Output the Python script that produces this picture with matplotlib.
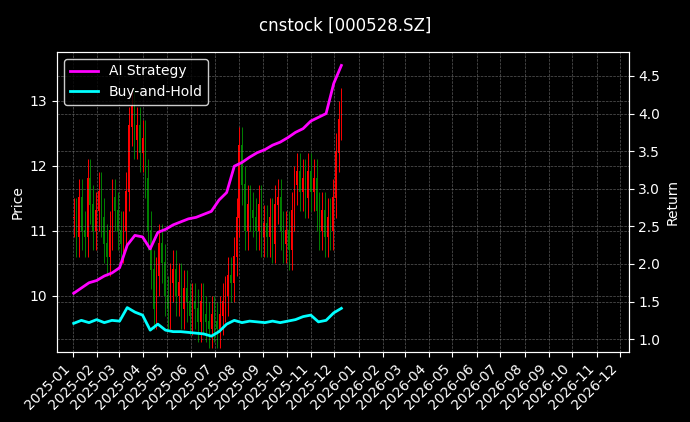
import matplotlib
matplotlib.use("Agg")
import matplotlib.pyplot as plt
import matplotlib.dates as mdates
import numpy as np
import pandas as pd

plt.style.use('dark_background')

title = 'cnstock [000528.SZ]'
price_close = [
    11.2, 10.9, 11.5, 11.0, 10.9, 11.8, 11.4, 11.0, 11.3, 11.6,
    11.2, 10.8, 10.6, 11.0, 11.5, 11.3, 11.0, 10.8,
    11.0, 11.6, 12.6, 12.9, 12.4, 12.6, 12.2, 12.4, 11.8,
    11.0, 10.4, 9.8, 10.3, 10.8, 10.5, 10.0, 9.8, 10.2,
    10.4, 10.0, 10.2, 9.8, 10.1, 9.9, 9.7, 9.9,
    9.8, 9.6, 9.9, 9.7, 9.6, 9.5, 9.7, 9.6,
    9.5, 9.7, 9.9, 10.0, 10.3, 10.2, 10.6, 11.2,
    12.3, 11.7, 11.0, 11.4, 11.3, 11.2, 11.0, 11.4, 10.9,
    11.1, 10.9, 11.2, 10.8, 11.4, 11.5, 11.0, 10.8,
    11.0, 10.7, 11.3, 11.7, 11.9, 11.6, 11.8, 11.5,
    11.9, 11.6, 11.8, 11.3, 11.0, 11.3, 10.9, 11.2,
    11.0, 11.5, 12.2, 12.7, 12.9,
]
ai_strategy = [
    1.61, 1.68, 1.75, 1.78, 1.84, 1.88, 1.95, 2.25, 2.38, 2.36, 2.2, 2.42,
    2.46, 2.52, 2.56, 2.6, 2.62, 2.66, 2.7, 2.85, 2.95, 3.3, 3.35, 3.42,
    3.48, 3.52, 3.58, 3.62, 3.68, 3.75, 3.8, 3.9, 3.95, 4.0, 4.4, 4.64,
]
buy_hold = [
    1.21, 1.25, 1.22, 1.26, 1.22, 1.25, 1.24, 1.42, 1.36, 1.32, 1.12, 1.2,
    1.12, 1.1, 1.1, 1.09, 1.08, 1.07, 1.04, 1.1, 1.2, 1.25, 1.22, 1.24,
    1.23, 1.22, 1.24, 1.22, 1.24, 1.26, 1.3, 1.32, 1.23, 1.25, 1.35, 1.41,
]

start, end = pd.Timestamp('2025-01-02'), pd.Timestamp('2025-12-10')
pdates = pd.to_datetime(np.linspace(start.value, end.value, len(price_close)))
rdates = pd.to_datetime(np.linspace(start.value, end.value, len(ai_strategy)))

close = np.array(price_close)
opn = np.r_[close[0], close[:-1]]
wick = 0.3
high = np.maximum(opn, close) + wick
low = np.minimum(opn, close) - wick
up = close >= opn
colors = np.where(up, 'red', 'green')

fig, ax = plt.subplots(figsize=(6.9, 4.22), dpi=100)
fig.subplots_adjust(left=0.083, right=0.911, top=0.877, bottom=0.166)
fig.suptitle(title, fontsize=12, y=0.96)

ax.vlines(pdates, low, high, colors=colors, linewidth=0.7)
ax.bar(pdates, np.abs(close - opn) + 0.02, bottom=np.minimum(opn, close),
       width=2.0, color=colors)
ax.set_ylabel('Price')
ax.set_ylim(9.14, 13.75)
ax.grid(True, color='gray', linestyle='--', linewidth=0.5, alpha=0.7)

ax2 = ax.twinx()
l1, = ax2.plot(rdates, ai_strategy, color='magenta', linewidth=2, label='AI Strategy')
l2, = ax2.plot(rdates, buy_hold, color='cyan', linewidth=2, label='Buy-and-Hold')
ax2.set_ylabel('Return')
ax2.set_ylim(0.83, 4.82)
ax2.grid(True, color='gray', linestyle='--', linewidth=0.5, alpha=0.7)
ax2.legend(handles=[l1, l2], loc='upper left', facecolor='black', edgecolor='white')

ax.set_xlim(pd.Timestamp('2024-12-12'), pd.Timestamp('2026-12-12'))
ax.xaxis.set_major_locator(mdates.MonthLocator())
ax.xaxis.set_major_formatter(mdates.DateFormatter('%Y-%m'))
plt.setp(ax.get_xticklabels(), rotation=45, ha='right')

plt.savefig('out.png', dpi=100)
